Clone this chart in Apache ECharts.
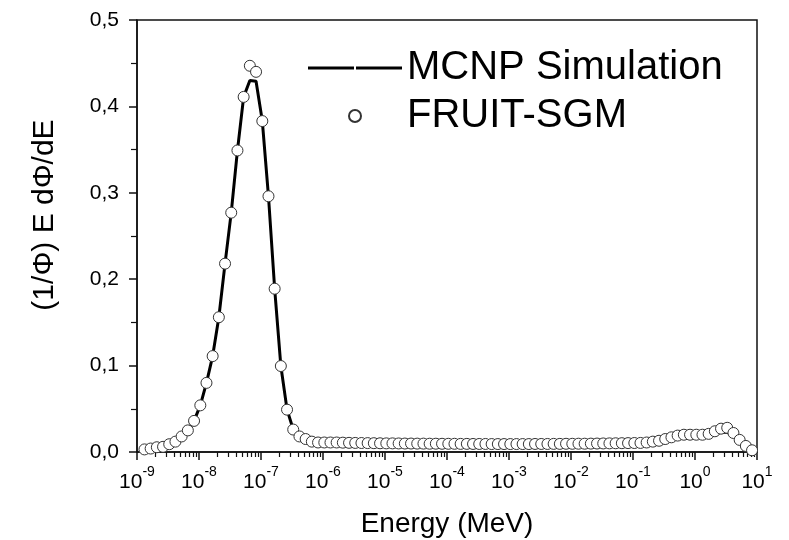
<!DOCTYPE html>
<html><head><meta charset="utf-8">
<script src="https://cdn.jsdelivr.net/npm/echarts@6/dist/echarts.min.js"></script>
<style>html,body{margin:0;padding:0;background:#fff}#c{width:789px;height:540px}</style>
</head><body><div id="c"></div>
<script>
// Energy grid (MeV)
const energy = [
1.32e-9,1.66e-9,2.09e-9,2.63e-9,3.31e-9,4.17e-9,5.25e-9,6.61e-9,8.32e-9,1.05e-8,
1.32e-8,1.66e-8,2.09e-8,2.63e-8,3.31e-8,4.17e-8,5.25e-8,6.61e-8,8.32e-8,1.05e-7,
1.32e-7,1.66e-7,2.09e-7,2.63e-7,3.31e-7,4.17e-7,5.25e-7,6.61e-7,8.32e-7,1.05e-6,
1.32e-6,1.66e-6,2.09e-6,2.63e-6,3.31e-6,4.17e-6,5.25e-6,6.61e-6,8.32e-6,1.05e-5,
1.32e-5,1.66e-5,2.09e-5,2.63e-5,3.31e-5,4.17e-5,5.25e-5,6.61e-5,8.32e-5,1.05e-4,
1.32e-4,1.66e-4,2.09e-4,2.63e-4,3.31e-4,4.17e-4,5.25e-4,6.61e-4,8.32e-4,1.05e-3,
1.32e-3,1.66e-3,2.09e-3,2.63e-3,3.31e-3,4.17e-3,5.25e-3,6.61e-3,8.32e-3,1.05e-2,
1.32e-2,1.66e-2,2.09e-2,2.63e-2,3.31e-2,4.17e-2,5.25e-2,6.61e-2,8.32e-2,1.05e-1,
1.32e-1,1.66e-1,2.09e-1,2.63e-1,3.31e-1,4.17e-1,5.25e-1,6.61e-1,8.32e-1,1.05e0,
1.32e0,1.66e0,2.09e0,2.63e0,3.31e0,4.17e0,5.25e0,6.61e0,8.32e0
];
// FRUIT-SGM (open circles)
const fruitSGM = [
0.003,0.004,0.0055,0.006,0.009,0.012,0.018,0.025,0.036,0.054,
0.080,0.111,0.156,0.218,0.277,0.349,0.411,0.447,0.440,0.383,
0.296,0.189,0.0995,0.049,0.026,0.018,0.015,0.012,0.011,0.011,
0.011,0.011,0.0108,0.0106,0.0105,0.0104,0.0103,0.0102,0.0101,0.010,
0.010,0.0099,0.0098,0.0098,0.0097,0.0097,0.0096,0.0096,0.0095,0.0095,
0.0095,0.0094,0.0094,0.0093,0.0093,0.0093,0.0092,0.0092,0.0092,0.0092,
0.0092,0.0092,0.0092,0.0093,0.0093,0.0093,0.0094,0.0094,0.0095,0.0095,
0.0096,0.0096,0.0097,0.0098,0.0099,0.010,0.0101,0.0102,0.0103,0.0104,
0.0105,0.011,0.012,0.013,0.015,0.017,0.019,0.020,0.020,0.020,
0.020,0.021,0.024,0.027,0.028,0.022,0.014,0.007,0.002
];
// MCNP Simulation (solid line)
const mcnp = [
0.003,0.004,0.0055,0.006,0.009,0.012,0.018,0.025,0.036,0.054,
0.080,0.111,0.156,0.218,0.277,0.349,0.411,0.430,0.429,0.383,
0.296,0.189,0.0995,0.049,0.026,0.018,0.015,0.012,0.011,0.011,
0.011,0.011,0.0108,0.0106,0.0105,0.0104,0.0103,0.0102,0.0101,0.010,
0.010,0.0099,0.0098,0.0098,0.0097,0.0097,0.0096,0.0096,0.0095,0.0095,
0.0095,0.0094,0.0094,0.0093,0.0093,0.0093,0.0092,0.0092,0.0092,0.0092,
0.0092,0.0092,0.0092,0.0093,0.0093,0.0093,0.0094,0.0094,0.0095,0.0095,
0.0096,0.0096,0.0097,0.0098,0.0099,0.010,0.0101,0.0102,0.0103,0.0104,
0.0105,0.012,0.014,0.016,0.019,0.021,0.023,0.024,0.022,0.020,
0.019,0.019,0.021,0.023,0.023,0.019,0.013,0.007,0.002
];
const seriesNames = ['MCNP Simulation', 'FRUIT-SGM'];
const xTitle = 'Energy (MeV)';
const yTitle = '(1/\u03A6) E d\u03A6/dE';
const xMin = 1e-9, xMax = 10;

const FONT = 'Liberation Sans';
const chart = echarts.init(document.getElementById('c'), null, {renderer: 'canvas'});
chart.setOption({
  animation: false,
  backgroundColor: '#fff',
  grid: {left: 137, right: 32, top: 20, bottom: 88, outerBoundsMode: 'none',
         show: true, borderColor: '#111', borderWidth: 1.5, backgroundColor: 'transparent'},
  legend: {
    orient: 'vertical', left: 303, top: 39, itemGap: 0,
    itemWidth: 94, itemHeight: 12,
    data: [
      {name: seriesNames[0], icon: 'path://M0,0H46V3H0Z M48,0H94V3H48Z', itemStyle: {color: '#000', borderWidth: 0}},
      {name: seriesNames[1]}
    ],
    textStyle: {fontFamily: FONT, fontSize: 40, color: '#000', lineHeight: 48}
  },
  xAxis: {
    type: 'log', logBase: 10, min: xMin, max: xMax,
    name: xTitle, nameLocation: 'middle', nameGap: 58,
    nameTextStyle: {fontFamily: FONT, fontSize: 28, color: '#000'},
    axisLine: {lineStyle: {color: '#111', width: 1.5}},
    axisTick: {show: true, length: 8, lineStyle: {color: '#111', width: 1.5}},
    minorTick: {show: true, splitNumber: 9, length: 5, lineStyle: {color: '#111', width: 1.2}},
    splitLine: {show: false},
    minorSplitLine: {show: false},
    axisLabel: {
      margin: 13,
      formatter: function (v) { return '{b|10}{s|' + Math.round(Math.log10(v)) + '}'; },
      rich: {
        b: {fontFamily: FONT, fontSize: 21, color: '#000', verticalAlign: 'bottom', lineHeight: 28},
        s: {fontFamily: FONT, fontSize: 14, color: '#000', verticalAlign: 'top', lineHeight: 28}
      }
    }
  },
  yAxis: {
    type: 'value', min: 0, max: 0.5, interval: 0.1,
    name: yTitle, nameLocation: 'middle', nameGap: 77, nameRotate: 90,
    nameTextStyle: {fontFamily: FONT, fontSize: 30, color: '#000', padding: [0,0,0,42]},
    axisLine: {show: true, lineStyle: {color: '#111', width: 1.5}},
    axisTick: {show: true, length: 8, lineStyle: {color: '#111', width: 1.5}},
    minorTick: {show: true, splitNumber: 2, length: 6, lineStyle: {color: '#111', width: 1.2}},
    splitLine: {show: false},
    axisLabel: {
      margin: 18, fontFamily: FONT, fontSize: 21, color: '#000',
      formatter: function (v) { return v.toFixed(1).replace('.', ','); }
    }
  },
  series: [
    {
      name: seriesNames[0], type: 'line', showSymbol: false, symbol: 'none',
      data: energy.map((e, i) => [e, mcnp[i]]),
      lineStyle: {color: '#000', width: 3}, itemStyle: {color: '#000'}, z: 2
    },
    {
      name: seriesNames[1], type: 'scatter', symbol: 'circle', symbolSize: 11,
      data: energy.map((e, i) => [e, fruitSGM[i]]),
      itemStyle: {color: '#fff', borderColor: '#333', borderWidth: 1, opacity: 1}, z: 3
    }
  ]
});
</script>
</body></html>
